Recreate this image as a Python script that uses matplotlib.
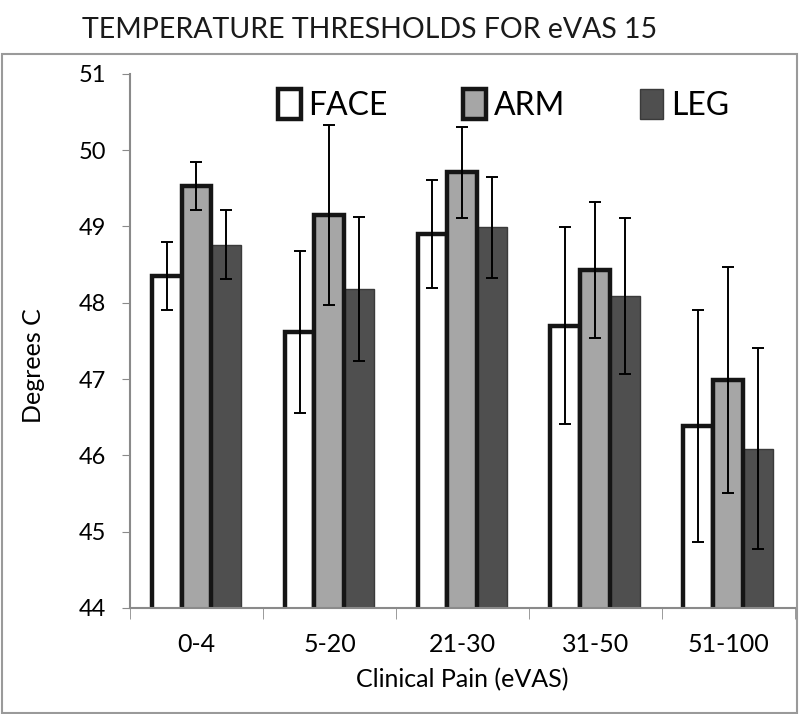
import matplotlib.pyplot as plt
import numpy as np
from matplotlib.patches import Rectangle

plt.rcParams['font.family'] = ['Lato', 'DejaVu Sans']

categories = ['0-4', '5-20', '21-30', '31-50', '51-100']
face = [48.35, 47.62, 48.90, 47.70, 46.38]
arm = [49.53, 49.15, 49.71, 48.43, 46.99]
leg = [48.76, 48.18, 48.99, 48.09, 46.09]
face_err = [0.45, 1.06, 0.71, 1.29, 1.52]
arm_err = [0.32, 1.18, 0.60, 0.89, 1.48]
leg_err = [0.45, 0.94, 0.66, 1.02, 1.32]


def main():
    fig = plt.figure(figsize=(8, 7.14), dpi=100)
    ax = fig.add_axes([0.1625, 0.1485, 0.831, 0.748])

    # grey frame around the chart area, title sits above it
    fig.patches.append(Rectangle((0.002, 0.001), 0.994, 0.924, transform=fig.transFigure,
                                 fill=False, edgecolor='#9a9a9a', linewidth=1.5))
    fig.text(0.462, 0.958, 'TEMPERATURE THRESHOLDS FOR eVAS 15', ha='center', va='center',
             fontsize=20.5, color='#1a1a1a')

    x = np.arange(len(categories))
    w = 0.225
    err_kw = dict(ecolor='black', elinewidth=1.4, capsize=4, capthick=1.4)

    ax.bar(x + w, leg, w, color='#4f4f4f', edgecolor='#3a3a3a', linewidth=1,
           label='LEG', zorder=2)
    ax.bar(x - w, face, w, color='white', edgecolor='#151515', linewidth=3.2,
           label='FACE', zorder=3)
    ax.bar(x, arm, w, color='#a6a6a6', edgecolor='#151515', linewidth=3.2,
           label='ARM', zorder=4)
    ax.errorbar(x - w, face, yerr=face_err, fmt='none', zorder=6, **err_kw)
    ax.errorbar(x, arm, yerr=arm_err, fmt='none', zorder=6, **err_kw)
    ax.errorbar(x + w, leg, yerr=leg_err, fmt='none', zorder=6, **err_kw)

    ax.set_ylim(44, 51)
    ax.set_xlim(-0.5, len(categories) - 0.5)
    ax.set_yticks(range(44, 52))
    ax.set_xticks(x)
    ax.set_xticklabels(categories, fontsize=18)
    ax.set_xticks(np.arange(-0.5, len(categories)), minor=True)
    ax.tick_params(axis='x', which='major', length=0, pad=18)
    ax.tick_params(axis='x', which='minor', length=8, color='#8a8a8a', direction='out')
    ax.tick_params(axis='y', labelsize=17, length=6, color='#8a8a8a', pad=11)

    for side in ['top', 'right']:
        ax.spines[side].set_visible(False)
    for side in ['left', 'bottom']:
        ax.spines[side].set_color('#8a8a8a')
        ax.spines[side].set_linewidth(1.5)
        ax.spines[side].set_zorder(5)

    ax.set_xlabel('Clinical Pain (eVAS)', fontsize=18, labelpad=9)
    ax.set_ylabel('Degrees C', fontsize=18)
    ax.yaxis.set_label_coords(-0.128, 0.453)

    handles, labels = ax.get_legend_handles_labels()
    order = [1, 2, 0]
    ax.legend([handles[i] for i in order], [labels[i] for i in order], ncol=3,
              loc='upper right', bbox_to_anchor=(0.945, 1.025), frameon=False,
              fontsize=23, handlelength=0.72, handleheight=1.05, handletextpad=0.25,
              columnspacing=2.35)

    fig.savefig('out.png', dpi=100)


if __name__ == "__main__":
    main()
